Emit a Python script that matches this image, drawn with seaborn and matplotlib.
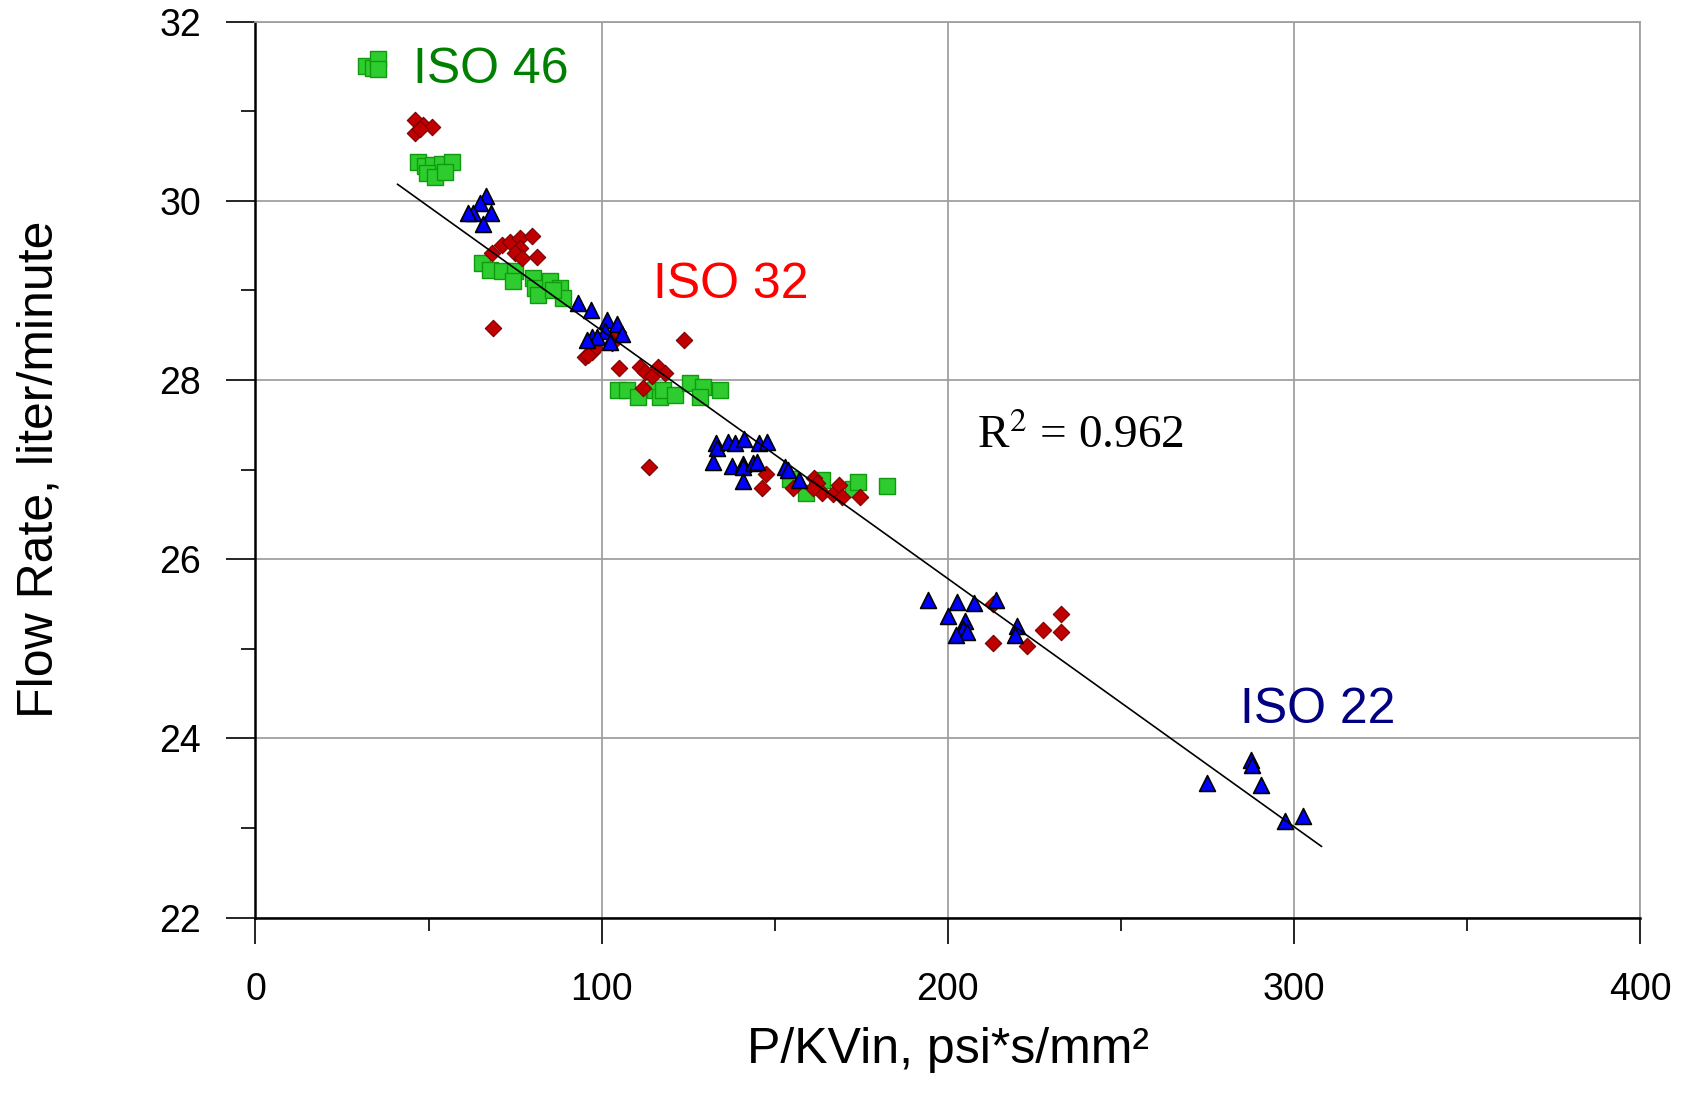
import matplotlib
matplotlib.use("Agg")
import matplotlib.pyplot as plt
import seaborn as sns
import numpy as np
import pandas as pd
from matplotlib.ticker import MultipleLocator

# ---------------- data ----------------
iso46_x = [32, 34, 35.5, 35.5,
           46.9, 49.0, 51.3, 53.9, 56.7, 49.5, 51.9, 54.7,
           65.4, 67.8, 71.2, 75.0, 74.4, 80.2, 80.7, 81.6, 85.1, 88.0, 88.8, 86.0,
           104.7, 107.3, 110.5, 115.4, 116.9, 117.7, 121.2, 125.5, 129.3, 128.4, 134.2,
           154.4, 159.0, 163.6, 172.6, 174.1, 182.4]
iso46_y = [31.50, 31.48, 31.58, 31.47,
           30.43, 30.39, 30.40, 30.41, 30.43, 30.31, 30.26, 30.32,
           29.30, 29.23, 29.22, 29.22, 29.11, 29.14, 29.03, 28.95, 29.11, 29.03, 28.92, 29.00,
           27.89, 27.89, 27.81, 27.89, 27.81, 27.89, 27.83, 27.97, 27.92, 27.81, 27.89,
           26.89, 26.74, 26.88, 26.78, 26.86, 26.82]

iso32_x = [46, 48.4, 51, 46, 47.5,
           68.3, 71.2, 73.5, 76.4, 79.9, 76.4, 75.0, 77.0, 81.3, 68.6,
           95.2, 97.2, 98.1, 96.1, 104.7, 103.0, 105.0, 111.1, 112.5, 114.6, 116.3, 118.3, 112.0, 123.8, 113.7,
           147.5, 146.3, 155.3, 161.4, 162.2, 163.7, 166.9, 168.6, 169.5, 174.7, 161.1,
           213.1, 213.1, 222.9, 227.5, 232.7, 232.7]
iso32_y = [30.90, 30.84, 30.82, 30.76, 30.80,
           29.42, 29.51, 29.54, 29.59, 29.61, 29.47, 29.42, 29.36, 29.37, 28.58,
           28.26, 28.31, 28.36, 28.28, 28.53, 28.41, 28.13, 28.14, 28.09, 28.05, 28.14, 28.08, 27.91, 28.45, 27.03,
           26.95, 26.80, 26.80, 26.91, 26.85, 26.74, 26.73, 26.83, 26.70, 26.70, 26.80,
           25.50, 25.07, 25.03, 25.21, 25.39, 25.19]

iso22_x = [66.6, 64.9, 62.8, 68.0, 65.7, 61.4,
           93.2, 96.9, 101.5, 104.4, 101.0, 105.9, 97.2, 98.7, 102.4, 95.8,
           133.0, 133.3, 136.5, 138.5, 141.1, 145.5, 147.8, 132.2, 137.6, 140.8, 140.8, 143.7, 144.9, 140.8, 152.9, 153.8, 157.0,
           194.3, 202.6, 207.5, 213.9, 200.0, 204.9, 204.3, 205.5, 202.3, 220.0, 219.4,
           287.6, 287.9, 274.9, 290.5, 297.4, 302.6]
iso22_y = [30.05, 29.97, 29.86, 29.86, 29.74, 29.86,
           28.86, 28.78, 28.67, 28.63, 28.55, 28.51, 28.48, 28.48, 28.42, 28.45,
           27.30, 27.24, 27.31, 27.30, 27.34, 27.30, 27.31, 27.08, 27.04, 27.06, 27.03, 27.07, 27.09, 26.87, 27.03, 27.00, 26.88,
           25.54, 25.52, 25.51, 25.55, 25.37, 25.31, 25.22, 25.19, 25.16, 25.26, 25.15,
           23.76, 23.70, 23.50, 23.48, 23.08, 23.14]

fit_slope = -0.02768
fit_intercept = 31.32
fit_x_range = [41, 308]
r_squared = 0.962

x_ticks = [0, 100, 200, 300, 400]
y_ticks = [22, 24, 26, 28, 30, 32]

# ---------------- plot ----------------
sns.set_theme(style="white")
plt.rcParams['font.family'] = ['Liberation Sans', 'DejaVu Sans']
plt.rcParams['text.color'] = 'black'
plt.rcParams['axes.labelcolor'] = 'black'
plt.rcParams['xtick.color'] = 'black'
plt.rcParams['ytick.color'] = 'black'

fig = plt.figure(figsize=(16.83, 10.98), dpi=100)
ax = fig.add_axes([0.1518, 0.1642, 0.8227, 0.8162])

df46 = pd.DataFrame({"x": iso46_x, "y": iso46_y})
df32 = pd.DataFrame({"x": iso32_x, "y": iso32_y})
df22 = pd.DataFrame({"x": iso22_x, "y": iso22_y})

sns.scatterplot(data=df46, x="x", y="y", ax=ax, marker="s", s=140,
                color="#2ecc2e", edgecolor="#0f9a0f", linewidth=1.0, zorder=3)
sns.scatterplot(data=df32, x="x", y="y", ax=ax, marker="D", s=70,
                color="#c00000", edgecolor="#7a0000", linewidth=0.8, zorder=4)
sns.scatterplot(data=df22, x="x", y="y", ax=ax, marker="^", s=130,
                color="#0000ff", edgecolor="black", linewidth=1.2, zorder=5)

fit_df = pd.DataFrame({"x": fit_x_range,
                       "y": [fit_intercept + fit_slope * v for v in fit_x_range]})
sns.lineplot(data=fit_df, x="x", y="y", ax=ax, color="black", linewidth=1.2, zorder=6)

ax.set_xlim(0, 400)
ax.set_ylim(22, 32)
ax.set_xticks(x_ticks)
ax.set_yticks(y_ticks)
ax.xaxis.set_minor_locator(MultipleLocator(50))
ax.yaxis.set_minor_locator(MultipleLocator(1))

ax.grid(True, which="major", color="#a0a0a0", linewidth=1.3)
ax.set_axisbelow(True)

for side in ["top", "right"]:
    ax.spines[side].set_color("#a0a0a0")
    ax.spines[side].set_linewidth(1.3)
for side in ["left", "bottom"]:
    ax.spines[side].set_color("black")
    ax.spines[side].set_linewidth(1.8)

ax.tick_params(axis="x", which="major", direction="out", length=19, width=1.2,
               color="black", pad=20, labelsize=27, labelcolor="black", bottom=True)
ax.tick_params(axis="x", which="minor", direction="out", length=9, width=1.2,
               color="black", bottom=True)
ax.tick_params(axis="y", which="major", direction="out", length=21, width=1.2,
               color="black", pad=18, labelsize=27, labelcolor="black", left=True)
ax.tick_params(axis="y", which="minor", direction="out", length=10, width=1.2,
               color="black", left=True)

ax.set_xlabel("P/KVin, psi*s/mm²", fontsize=36, labelpad=14, color="black")
ax.set_ylabel("Flow Rate, liter/minute", fontsize=36, labelpad=70, color="black")

ax.text(45.6, 31.46, "ISO 46", color="#008000", fontsize=36, va="center", ha="left")
ax.text(114.7, 29.06, "ISO 32", color="#ff0000", fontsize=36, va="center", ha="left")
ax.text(284.3, 24.32, "ISO 22", color="#000080", fontsize=36, va="center", ha="left")
ax.text(208.4, 27.38, f"R$^2$ = {r_squared}", color="black", fontsize=34,
        va="center", ha="left", family=["Liberation Serif", "DejaVu Serif"],
        math_fontfamily="stix")

fig.savefig("out.png", dpi=100)
